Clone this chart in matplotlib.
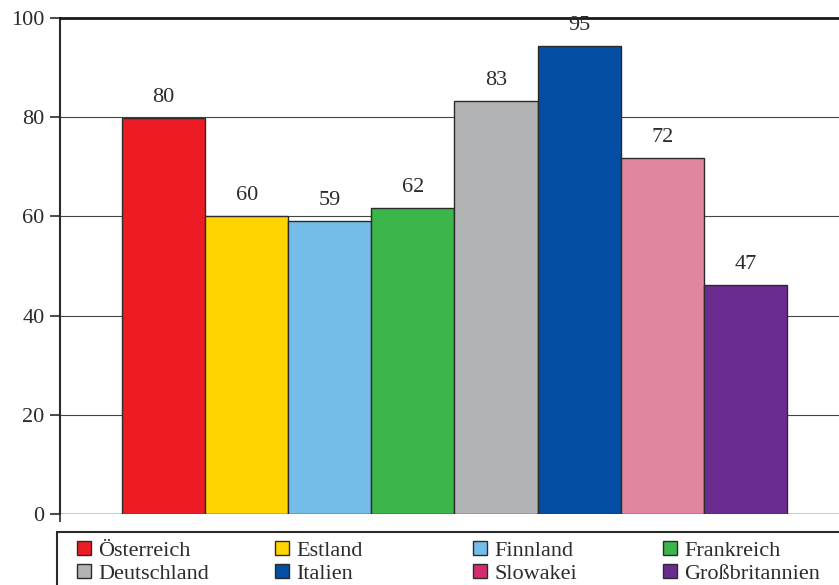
import matplotlib
matplotlib.use("Agg")
import matplotlib.pyplot as plt
from matplotlib.patches import Patch, Rectangle

# Werte (Balkenhöhen aus dem Bild geschätzt, Beschriftung gerundet)
countries = ["Österreich", "Estland", "Finnland", "Frankreich",
             "Deutschland", "Italien", "Slowakei", "Großbritannien"]
values = [79.8, 60.1, 59.1, 61.7, 83.2, 94.4, 71.7, 46.2]
labels = ["80", "60", "59", "62", "83", "95", "72", "47"]
bar_colors = ["#ED1C24", "#FFD400", "#74BDE8", "#3CB54A",
              "#B2B3B5", "#034EA2", "#DE879E", "#6C2B91"]
legend_colors = ["#ED1C24", "#FFD400", "#74BDE8", "#3CB54A",
                 "#B2B3B5", "#034EA2", "#D42B6F", "#6C2B91"]
yticks = [0, 20, 40, 60, 80, 100]

plt.rcParams["font.family"] = ["Liberation Serif", "DejaVu Serif"]
txt = "#2b2b2b"

W, H = 839, 585
fig = plt.figure(figsize=(W / 100, H / 100), dpi=100)
ax = fig.add_axes([60 / W, 1 - 514 / H, 1 - 60 / W, (514 - 18) / H])

x = list(range(len(values)))
ax.bar(x, values, width=1.0, color=bar_colors, edgecolor="#2b2b2b",
       linewidth=1.0, zorder=3)
for xi, v, lab in zip(x, values, labels):
    ax.annotate(lab, (xi, v), xytext=(0, 8), textcoords="offset points",
                ha="center", va="bottom", fontsize=16, color=txt)

ax.set_ylim(0, 100)
ax.set_xlim(-1.247, 8.127)
ax.set_yticks(yticks)
ax.set_yticklabels([str(t) for t in yticks], fontsize=16, color=txt)
ax.yaxis.grid(True, color="#444444", linewidth=0.8, zorder=0)
ax.tick_params(axis="y", direction="out", length=7, width=1.2,
               color="#2b2b2b", pad=4)
ax.set_xticks([-1.247])
ax.set_xticklabels([""])
ax.tick_params(axis="x", direction="out", length=6, width=1.2,
               color="#2b2b2b")
for s in ["right", "bottom"]:
    ax.spines[s].set_visible(False)
ax.spines["left"].set_color("#2b2b2b")
ax.spines["left"].set_linewidth(1.5)
ax.spines["top"].set_color("#1a1a1a")
ax.spines["top"].set_linewidth(2.0)
ax.axhline(0, color="#2b2b2b", linewidth=1.0, zorder=2)

# Legendenrahmen (läuft über den Bildrand hinaus)
fig.patches.append(Rectangle((57 / W, -0.1), 1.0, 0.1 + (H - 532) / H,
                             transform=fig.transFigure, fill=False,
                             edgecolor="#2b2b2b", linewidth=1.5))

col_x = [77, 275, 473, 663]
for j, cx in enumerate(col_x):
    handles = [Patch(facecolor=legend_colors[k], edgecolor="#2b2b2b",
                     linewidth=1.0, label=countries[k]) for k in (j, j + 4)]
    fig.legend(handles=handles, loc="upper left",
               bbox_to_anchor=(cx / W, 1 - 541 / H), frameon=False,
               borderpad=0, borderaxespad=0, handlelength=0.62,
               handleheight=0.62, handletextpad=0.35, labelspacing=0.12,
               fontsize=16, labelcolor=txt)

fig.savefig("out.png", dpi=100)
